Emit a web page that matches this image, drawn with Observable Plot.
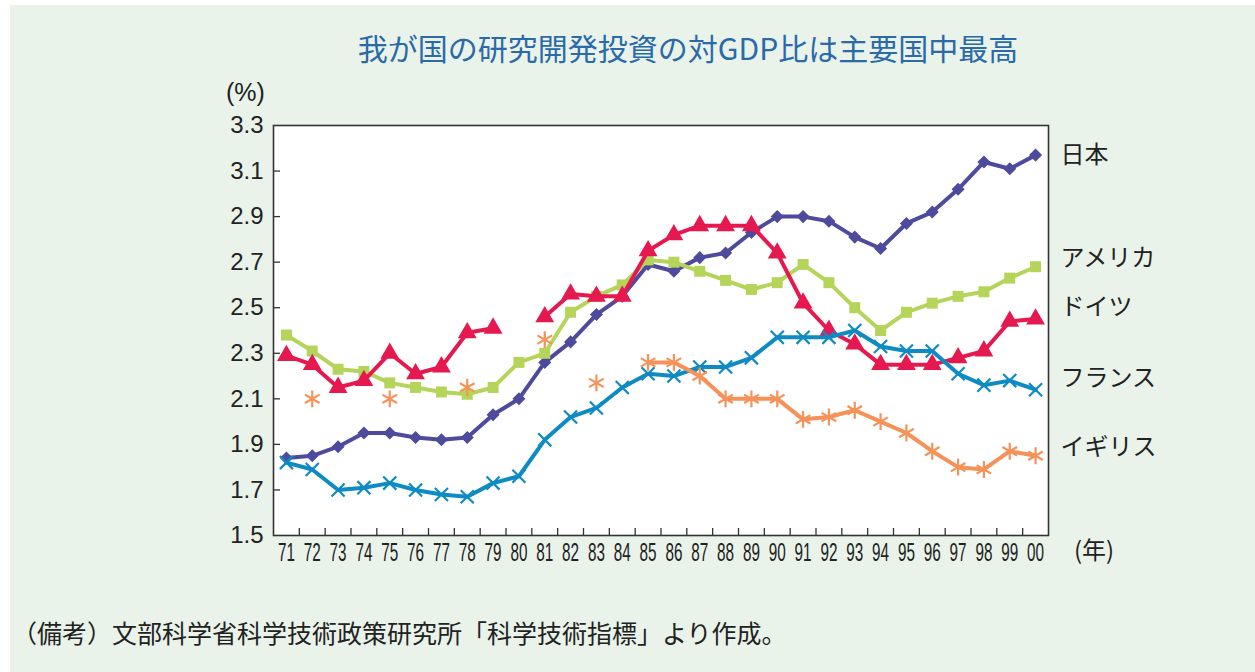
<!DOCTYPE html>
<html><head><meta charset="utf-8">
<script src="https://cdn.jsdelivr.net/npm/d3@7"></script>
<script src="https://cdn.jsdelivr.net/npm/@observablehq/plot@0.6"></script>
<style>
html,body{margin:0;padding:0;background:#fff;}
#wrap{position:absolute;left:10px;top:5px;width:1245px;height:667px;background:#e9f3e9;overflow:hidden;font-family:"Noto Sans CJK JP","Noto Sans",sans-serif;color:#222;}
#title{position:absolute;left:678px;top:27px;transform:translateX(-50%);white-space:nowrap;font-size:30px;line-height:30px;color:#2a6aa9;}
#chart{position:absolute;left:0;top:75px;}
.lbl{position:absolute;white-space:nowrap;}
#pct{left:216px;top:74px;font-family:"Liberation Sans",Arial,sans-serif;font-size:25px;line-height:26px;}
#nen{left:1064px;top:531px;font-size:24px;line-height:26px;}
#cap{left:2px;top:613px;font-size:25px;line-height:28px;}
</style></head>
<body>
<div id="wrap">
  <div id="title">我が国の研究開発投資の対GDP比は主要国中最高</div>
  <div class="lbl" id="pct">(%)</div>
  <div id="chart"></div>
  <div class="lbl" id="nen">(年)</div>
  <div class="lbl" id="cap">（備考）文部科学省科学技術政策研究所「科学技術指標」より作成。</div>
</div>
<script>
const years = [1971,1972,1973,1974,1975,1976,1977,1978,1979,1980,1981,1982,1983,1984,1985,1986,1987,1988,1989,1990,1991,1992,1993,1994,1995,1996,1997,1998,1999,2000];
const yearLabels = ["71","72","73","74","75","76","77","78","79","80","81","82","83","84","85","86","87","88","89","90","91","92","93","94","95","96","97","98","99","00"];
const yTicks = [1.5,1.7,1.9,2.1,2.3,2.5,2.7,2.9,3.1,3.3];
const seriesNames = ["日本","アメリカ","ドイツ","フランス","イギリス"];
const japan   = [1.84,1.85,1.89,1.95,1.95,1.93,1.92,1.93,2.03,2.10,2.26,2.35,2.47,2.55,2.69,2.66,2.72,2.74,2.83,2.90,2.90,2.88,2.81,2.76,2.87,2.92,3.02,3.14,3.11,3.17];
const usa     = [2.38,2.31,2.23,2.22,2.17,2.15,2.13,2.12,2.15,2.26,2.30,2.48,2.55,2.60,2.71,2.70,2.66,2.62,2.58,2.61,2.69,2.61,2.50,2.40,2.48,2.52,2.55,2.57,2.63,2.68];
const germany = [2.29,2.25,2.15,2.18,2.30,2.21,2.24,2.39,2.41,null,2.46,2.56,2.55,2.55,2.75,2.82,2.86,2.86,2.86,2.74,2.52,2.40,2.34,2.25,2.25,2.25,2.28,2.31,2.44,2.45];
const france  = [1.82,1.79,1.70,1.71,1.73,1.70,1.68,1.67,1.73,1.76,1.92,2.02,2.06,2.15,2.21,2.20,2.24,2.24,2.28,2.37,2.37,2.37,2.40,2.33,2.31,2.31,2.21,2.16,2.18,2.14];
const uk      = [null,2.10,null,null,2.10,null,null,2.15,null,null,2.36,null,2.17,null,2.26,2.26,2.20,2.10,2.10,2.10,2.01,2.02,2.05,2.00,1.95,1.87,1.80,1.79,1.87,1.85];

const seriesValues = [japan, usa, germany, france, uk];
const styles = [
  {color:"#4e4a9c", symbol:"square",   r:5.2, rotate:45, filled:true,  labelDy:0},
  {color:"#b5d45a", symbol:"square",   r:6.2, rotate:0,  filled:true,  labelDy:-8},
  {color:"#e5194f", symbol:"triangle", r:7,   rotate:0,  filled:true,  labelDy:-12},
  {color:"#0e8bc2", symbol:"times",    r:6,   rotate:0,  filled:false, labelDy:-11},
  {color:"#f5925a", symbol:"asterisk", r:8,   rotate:0,  filled:false, labelDy:-8}
];

const W = 1245, H = 510, ML = 263, MR = 207, MT = 45, MB = 55;
const plotW = W - ML - MR, plotH = H - MT - MB;
const boundaries = years.slice(0, -1).map(y => y + 0.5);

const marks = [Plot.frame({fill:"white"})];
seriesValues.forEach((vals, k) => {
  const st = styles[k];
  const rows = years.map((yr, i) => ({year: yr, value: vals[i] == null ? NaN : vals[i], name: seriesNames[k]}));
  marks.push(Plot.line(rows, {x:"year", y:"value", stroke: st.color, strokeWidth:4, strokeLinejoin:"round"}));
  const pts = rows.filter(d => !isNaN(d.value));
  marks.push(Plot.dot(pts, st.filled
    ? {x:"year", y:"value", symbol: st.symbol, r: st.r, rotate: st.rotate, fill: st.color, stroke:"none"}
    : {x:"year", y:"value", symbol: st.symbol, r: st.r, fill:"none", stroke: st.color, strokeWidth:2.2}));
});
seriesValues.forEach((vals, k) => {
  const st = styles[k];
  const last = {value: vals[vals.length - 1], name: seriesNames[k]};
  marks.push(Plot.text([last], {y:"value", text:"name", frameAnchor:"right", textAnchor:"start", dx:12, dy: st.labelDy,
    fontSize:24, fill:"#222", fontFamily:"Noto Sans CJK JP"}));
});
marks.push(
  Plot.tickX(boundaries, {x: d => d, insetTop: plotH - 7, stroke:"#333", strokeWidth:1.3}),
  Plot.tickY(yTicks.slice(1, -1), {y: d => d, insetRight: plotW - 7, stroke:"#333", strokeWidth:1.3}),
  Plot.frame({stroke:"#333", strokeWidth:1.6}),
  Plot.axisY({ticks: yTicks, tickFormat: d => d.toFixed(1), tickSize:0, tickPadding:10, label:null, fontSize:24, fill:"#222"}),
  Plot.axisX({ticks: years, tickFormat: d => yearLabels[years.indexOf(d)], tickSize:0, tickPadding:7, label:null, fontSize:21, fill:"#222"})
);

const svg = Plot.plot({
  width: W, height: H,
  marginLeft: ML, marginRight: MR, marginTop: MT, marginBottom: MB,
  style: {background:"transparent", fontFamily:"'Liberation Sans', Arial, sans-serif", fontSize:"24px", color:"#222", overflow:"visible"},
  x: {domain:[1970.5, 2000.5]},
  y: {domain:[1.5, 3.3]},
  marks
});
document.getElementById("chart").appendChild(svg);
d3.select(svg).selectAll('g[aria-label="x-axis tick label"] text')
  .attr("textLength", 17).attr("lengthAdjust", "spacingAndGlyphs")
  .attr("transform", function() { return (this.getAttribute("transform") || "") + " scale(1,1.25)"; });
</script>
</body></html>
